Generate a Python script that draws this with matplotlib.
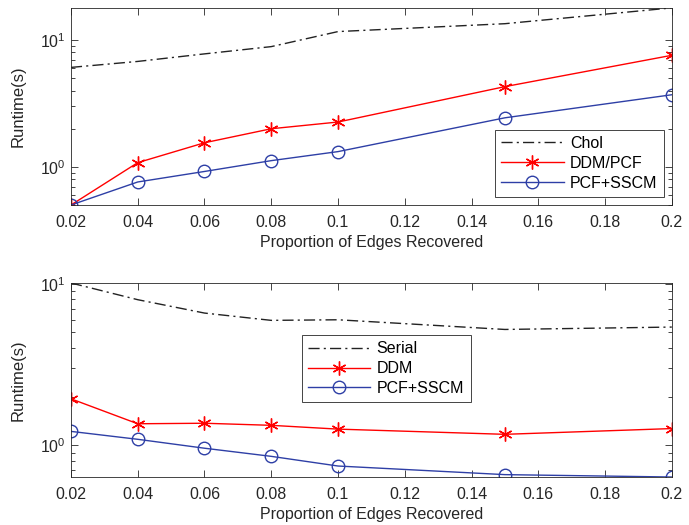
import matplotlib.pyplot as plt
import numpy as np
from matplotlib.ticker import LogLocator, NullFormatter, FixedLocator

plt.rcParams["font.family"] = ["Liberation Sans", "DejaVu Sans"]
plt.rcParams["mathtext.fontset"] = "custom"
plt.rcParams["mathtext.rm"] = "Liberation Sans"

# x positions (proportion of edges recovered)
props = [0.02, 0.04, 0.06, 0.08, 0.1, 0.15, 0.2]

# top panel
chol = [6.1, 6.8, 7.8, 8.9, 11.7, 13.5, 18.0]
ddm_pcf = [0.50, 1.08, 1.55, 2.0, 2.26, 4.3, 7.6]
pcf_sscm_top = [0.50, 0.76, 0.92, 1.12, 1.32, 2.44, 3.71]

# bottom panel
serial = [10.1, 7.96, 6.58, 5.93, 5.98, 5.21, 5.39]
ddm = [1.94, 1.36, 1.37, 1.33, 1.26, 1.17, 1.27]
pcf_sscm_bot = [1.22, 1.09, 0.96, 0.855, 0.745, 0.659, 0.637]

xticks = [0.02, 0.04, 0.06, 0.08, 0.1, 0.12, 0.14, 0.16, 0.18, 0.2]
xticklabels = ["0.02", "0.04", "0.06", "0.08", "0.1", "0.12", "0.14", "0.16", "0.18", "0.2"]

axcol = "#262626"
red = "#ff0000"
blue = "#2e3fa6"
dashdot = (0, (8, 3, 1.5, 3))
asterisk = (6, 2, 0)

fig = plt.figure(figsize=(6.89, 5.25), dpi=100)
ax1 = fig.add_axes([0.103, 0.6095, 0.872, 0.3755])
ax2 = fig.add_axes([0.103, 0.0914, 0.872, 0.3696])


def style(ax, series, labels, legend_loc, **legkw):
    ref, mid, low = series
    ax.plot(props, ref, color="#222222", linestyle=dashdot, lw=1.0, label=labels[0])
    ax.plot(props, mid, color=red, lw=1.0, marker=asterisk, markersize=10,
            markeredgewidth=1.0, label=labels[1])
    ax.plot(props, low, color=blue, lw=1.0, marker="o", markersize=9,
            markerfacecolor="none", markeredgewidth=1.0, label=labels[2])
    ax.set_yscale("log")
    lo = min(min(ref), min(mid), min(low))
    hi = max(max(ref), max(mid), max(low))
    ax.set_ylim(lo, hi)
    ax.set_xlim(0.02, 0.2)
    ax.xaxis.set_major_locator(FixedLocator(xticks))
    ax.set_xticklabels(xticklabels)
    ax.yaxis.set_major_locator(LogLocator(base=10))
    ax.yaxis.set_minor_locator(LogLocator(base=10, subs=np.arange(2, 10)))
    ax.yaxis.set_minor_formatter(NullFormatter())
    ax.tick_params(which="both", direction="in", top=True, right=True,
                   colors=axcol, labelsize=11.5, width=0.6)
    ax.tick_params(which="major", length=5)
    ax.tick_params(which="minor", length=3)
    ax.tick_params(axis="x", pad=7)
    for sp in ax.spines.values():
        sp.set_color(axcol)
        sp.set_linewidth(0.6)
    ax.set_xlabel("Proportion of Edges Recovered", fontsize=11.5, color=axcol)
    ax.set_ylabel("Runtime(s)", fontsize=12, color=axcol)
    leg = ax.legend(loc=legend_loc, fontsize=11.5, handlelength=3.9,
                    fancybox=False, framealpha=1, borderpad=0.4,
                    labelspacing=0.3, handletextpad=0.4, **legkw)
    leg.get_frame().set_edgecolor(axcol)
    leg.get_frame().set_linewidth(0.6)
    return leg


style(ax1, (chol, ddm_pcf, pcf_sscm_top), ["Chol", "DDM/PCF", "PCF+SSCM"],
      "lower right")
ax1.yaxis.set_label_coords(-0.075, 0.5)
style(ax2, (serial, ddm, pcf_sscm_bot), ["Serial", "DDM", "PCF+SSCM"],
      "upper left", bbox_to_anchor=(0.384, 0.732), borderaxespad=0)
ax2.yaxis.set_label_coords(-0.075, 0.5)

fig.savefig("out.png", dpi=100)
